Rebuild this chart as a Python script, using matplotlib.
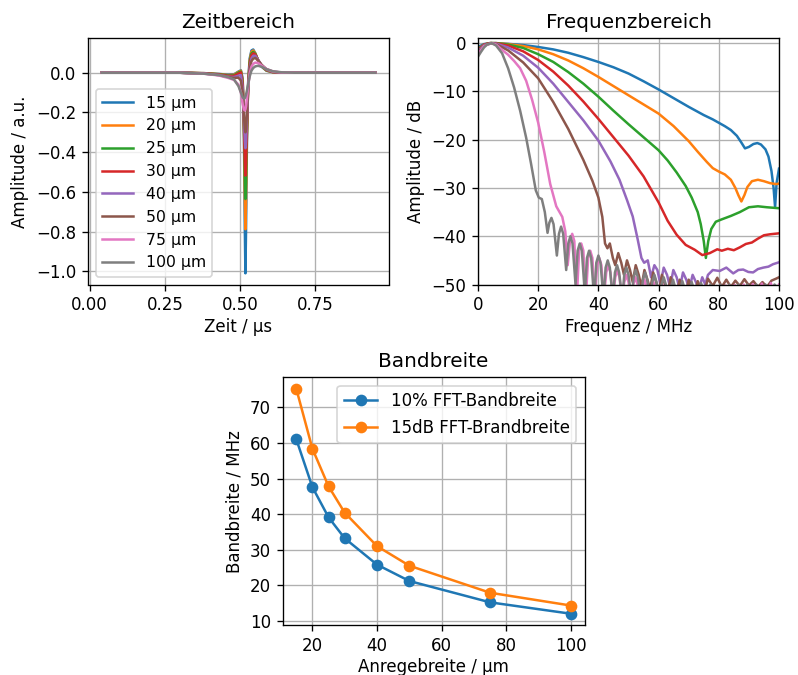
import matplotlib
matplotlib.use("Agg")
import matplotlib.pyplot as plt

# ---------------- data ----------------
labels = ["15 µm", "20 µm", "25 µm", "30 µm", "40 µm", "50 µm", "75 µm", "100 µm"]

# time domain (µs)
t_grid = [0.04, 0.30, 0.38, 0.43, 0.46, 0.48, 0.495, 0.503, 0.509, 0.513, 0.516, 0.518, 0.520,
          0.523, 0.527, 0.532, 0.538, 0.544, 0.551, 0.560, 0.572, 0.588, 0.610, 0.640, 0.680, 0.95]
amp_15 = [0, 0, -0.002, -0.006, -0.010, -0.008, 0.006, 0.012, -0.030, -0.30, -0.78, -1.01, -0.80,
          -0.35, -0.05, 0.07, 0.112, 0.117, 0.098, 0.062, 0.030, 0.010, 0.002, 0, 0, 0]
amp_20 = [0, 0, -0.002, -0.007, -0.012, -0.010, 0.004, 0.010, -0.040, -0.28, -0.64, -0.788, -0.66,
          -0.33, -0.06, 0.06, 0.105, 0.112, 0.097, 0.063, 0.032, 0.011, 0.002, 0, 0, 0]
amp_25 = [0, 0, -0.003, -0.008, -0.014, -0.013, 0.001, 0.006, -0.050, -0.27, -0.53, -0.636, -0.55,
          -0.30, -0.07, 0.05, 0.097, 0.105, 0.095, 0.064, 0.034, 0.012, 0.003, 0, 0, 0]
amp_30 = [0, 0, -0.003, -0.009, -0.016, -0.016, -0.004, 0.002, -0.060, -0.26, -0.45, -0.518, -0.46,
          -0.28, -0.08, 0.04, 0.088, 0.098, 0.092, 0.065, 0.036, 0.014, 0.003, 0, 0, 0]
amp_40 = [0, 0, -0.004, -0.011, -0.020, -0.022, -0.015, -0.012, -0.080, -0.23, -0.34, -0.38, -0.35,
          -0.23, -0.08, 0.025, 0.072, 0.085, 0.085, 0.065, 0.038, 0.016, 0.004, 0.001, 0, 0]
amp_50 = [0, 0, -0.004, -0.012, -0.022, -0.026, -0.025, -0.04, -0.10, -0.21, -0.28, -0.30, -0.285,
          -0.20, -0.08, 0.015, 0.058, 0.071, 0.074, 0.062, 0.040, 0.018, 0.005, 0.001, 0, 0]
amp_75 = [0, 0, -0.005, -0.014, -0.026, -0.036, -0.060, -0.10, -0.16, -0.185, -0.19, -0.185, -0.17,
          -0.13, -0.07, -0.005, 0.030, 0.045, 0.051, 0.049, 0.036, 0.019, 0.006, 0.001, 0, 0]
amp_100 = [0, 0, -0.005, -0.012, -0.022, -0.034, -0.068, -0.10, -0.125, -0.13, -0.128, -0.12, -0.11,
           -0.09, -0.06, -0.02, 0.010, 0.024, 0.032, 0.035, 0.030, 0.018, 0.007, 0.002, 0, 0]

# frequency domain (MHz, dB)
f_15 = [0, 2, 4, 6, 10, 15, 20, 25, 30, 35, 40, 45, 50, 55, 60, 65, 70, 75, 78, 80, 82, 84, 86,
        87.5, 88.7, 90, 91.5, 92.8, 94, 95.5, 96.5, 97.5, 98.2, 98.7, 99.2, 100]
db_15 = [-0.8, -0.2, 0, 0, -0.15, -0.4, -0.8, -1.3, -2.0, -2.9, -3.9, -5.0, -6.3, -7.9, -9.6, -11.4,
         -13.2, -14.9, -15.8, -16.5, -17.2, -18.0, -19.2, -20.6, -21.8, -21.5, -20.9, -20.7, -21.0,
         -22.0, -23.5, -26.5, -30, -34, -29, -26]
f_20 = [0, 2, 4, 6, 10, 15, 20, 25, 30, 35, 40, 45, 50, 55, 60, 65, 70, 73, 76, 78, 80, 82, 84,
        85.5, 86.5, 87.5, 88.5, 89.5, 91, 93, 95, 97, 99, 100]
db_20 = [-1.2, -0.3, 0, 0, -0.2, -0.6, -1.3, -2.3, -3.6, -5.2, -7.0, -8.9, -10.8, -12.7, -14.6, -17.2,
         -20.3, -22.5, -24.6, -25.9, -26.6, -27.2, -28.3, -30.0, -31.5, -32.8, -31.5, -29.8, -28.6,
         -28.3, -28.6, -29.0, -29.2, -29.1]
f_25 = [0, 2, 4, 6, 10, 15, 20, 25, 30, 35, 40, 45, 50, 55, 60, 63, 66, 69, 71, 73, 74, 75, 75.7,
        76.5, 77.5, 79, 81, 84, 87, 90, 93, 96, 100]
db_25 = [-1.3, -0.3, 0, 0, -0.3, -1.0, -2.3, -3.9, -6.0, -8.4, -11.1, -14.0, -16.8, -19.5, -22.2,
         -24.3, -26.8, -29.6, -32.0, -35.0, -37.5, -41, -44.5, -41, -38.5, -37.0, -36.5, -35.8, -35.0,
         -34.0, -33.8, -34.0, -34.2]
f_30 = [0, 2, 4, 6, 10, 15, 20, 25, 30, 35, 40, 45, 50, 55, 60, 63, 66, 69, 72, 74.5, 77, 79.5, 81,
        83, 85, 87, 89, 91, 93, 95, 97, 100]
db_30 = [-1.5, -0.3, 0, -0.05, -0.5, -1.7, -3.5, -5.9, -8.8, -12.1, -15.7, -19.5, -23.3, -27.6,
         -33.0, -36.8, -39.7, -41.8, -42.8, -43.9, -43.5, -42.7, -43.0, -42.6, -42.9, -42.3, -41.6,
         -41.3, -40.5, -39.8, -39.6, -39.4]
f_40 = [0, 2, 4.5, 6, 10, 15, 20, 25, 30, 35, 40, 44, 47, 49.5, 51.4, 53, 54.3, 55.2, 56.4, 57.5,
        58.6, 59.6, 60.6, 61.7, 62.8, 63.8, 64.9, 66, 67, 68.1, 69.2, 70.2, 71.3, 72.4, 73.4, 74.5,
        75.5, 76.4, 78, 80.3, 82.5, 84.8, 86.5, 88.1, 89.8, 91.4, 93, 94.8, 96.5, 98, 100]
db_40 = [-1.7, -0.4, 0, -0.1, -0.9, -2.6, -5.1, -8.4, -12.2, -16.0, -20.2, -24.5, -28.3, -32.5,
         -35.9, -40.5, -44.5, -45.5, -45, -48.5, -46, -47, -50, -46.5, -48, -50.5, -47, -48.5, -51,
         -47.5, -49, -51, -48, -49.5, -51, -48.5, -50, -48.0, -47.0, -47.2, -46.5, -47.7, -47.0,
         -46.9, -47.4, -47.5, -46.8, -46.5, -46.3, -45.8, -45.4]
f_50 = [0, 2, 4.5, 6, 10, 15, 20, 25, 30, 35, 38, 40, 41.3, 42.2, 43, 43.8, 44.8, 45.6, 46.6, 47.6,
        48.5, 49.5, 50.5, 51.4, 52.4, 53.4, 54.3, 55.3, 56.3, 57.2, 58.2, 59.2, 60.1, 61.1, 62.1, 63,
        64, 65, 66, 67, 68, 69, 70, 71, 72, 73, 74, 75, 76.4, 78, 79.5, 81, 82.5, 84, 85.5, 87,
        88.5, 90, 91.5, 93, 94.5, 96, 97.5, 99, 100]
db_50 = [-2.0, -0.5, 0, -0.2, -1.5, -4.0, -7.3, -12.2, -17.8, -24.2, -28.5, -32.0, -36, -41.5, -42.5,
         -41.5, -44.5, -46, -43.5, -45.5, -48, -45, -47, -49.5, -46, -48, -50.5, -47, -49, -51,
         -47.5, -49.5, -51.5, -48, -50, -52, -48.5, -50.5, -52, -49, -51, -52, -49, -51, -52, -49.3,
         -51, -52, -48.8, -50.3, -48.6, -50.5, -49, -50.5, -49.2, -50.3, -48.9, -50.2, -49.3, -50.5,
         -49.5, -50.5, -49.2, -48.8, -48.5]
f_75 = [0, 2, 4.5, 6, 8, 10, 12, 14, 16, 18, 20, 22, 24, 26, 28, 29, 29.8, 30.6, 31.3, 32.0, 32.8,
        33.6, 34.3, 35.0, 35.8, 36.6, 37.3, 38.0, 38.8, 39.6, 40.3, 41.0, 41.8, 42.6, 43.3, 44.0,
        44.8, 45.6, 46.3, 47.0, 47.8, 48.6, 49.3, 50.0, 50.8, 51.6, 52.3, 53.0, 53.8, 54.6, 55.3,
        56.0, 56.8, 58.3, 59.8, 61.3, 62.8, 64.3, 65.8, 67.3, 68.8, 70.3, 71.8, 73.3, 74.8, 76.3,
        77.8, 79.3, 80.8, 82.3, 83.8, 85.3, 86.8, 88.3, 89.8, 91.3, 92.8, 94.3, 95.8, 97.3, 98.8, 100]
db_75 = [-2.2, -0.6, 0, -0.3, -1.4, -2.4, -3.7, -5.2, -7.8, -11.8, -16.5, -22.5, -29.2, -33.8,
         -36.0, -39, -46, -40.8, -39.5, -41, -53, -43, -41.5, -43, -53, -44.5, -43, -44.5, -53, -46,
         -44.5, -46, -53, -47.5, -46, -47.5, -53, -48.5, -47, -48.5, -53, -49.5, -48, -49.5, -53,
         -50, -48.5, -50, -53, -50.5, -49, -50.5, -53, -49.5, -53, -50, -53, -50.3, -53, -50.4, -53,
         -50.5, -53, -50.5, -53, -50.4, -53, -50.3, -53, -50.2, -53, -50.1, -53, -50.0, -53, -49.9,
         -53, -49.8, -53, -49.7, -53, -50.0]
f_100 = [0, 1, 2, 3, 4.5, 6, 8, 10, 12, 14, 16, 17.6, 19.2, 20.2, 21.2, 22.2, 23.1, 23.7, 24.4,
         25.1, 26.2, 26.9, 27.6, 28.3, 29.3, 30.0, 30.7, 31.4, 32.4, 33.1, 33.8, 34.5, 35.5, 36.2,
         36.9, 37.6, 38.6, 39.3, 40.0, 40.7, 41.7, 42.4, 43.1, 43.8, 44.8, 45.5, 46.2, 46.9, 47.9,
         48.6, 49.3, 50.0, 51.0, 51.7, 52.4, 53.1, 54.1, 54.8, 55.5, 56.2, 57.2, 57.9, 58.6, 59.3,
         60.3, 61.0, 61.7, 62.4, 63.4, 64.8, 66.5, 67.9, 69.6, 71.0, 72.7, 74.1, 75.8, 77.2, 79,
         80.5, 82, 83.5, 85, 86.5, 88, 89.5, 91, 92.5, 94, 95.5, 97, 98.5, 100]
db_100 = [-2.8, -1.8, -0.9, -0.3, 0, -0.5, -2.1, -5.2, -9.2, -14.0, -19.6, -24.9, -30.5, -32.0,
          -32.3, -35.0, -39.3, -37.2, -36.2, -37.5, -44, -39.5, -38.0, -39.5, -47, -41.5, -40.0,
          -41.5, -50, -43, -41.5, -43, -52, -44.5, -43, -44.5, -53, -45.5, -44, -45.5, -53, -46.5,
          -45, -46.5, -53, -47.5, -46, -47.5, -53, -48, -46.5, -48, -53, -48.5, -47, -48.5, -53,
          -49, -47.5, -49, -53, -49.5, -48, -49.5, -53, -50, -48.5, -50, -53, -49, -53, -49.3, -53,
          -49.5, -53, -49.7, -53, -50, -53, -50, -53, -50, -53, -50, -53, -50, -53, -50, -53, -50,
          -53, -50, -51]

# bandwidth
widths = [15, 20, 25, 30, 40, 50, 75, 100]
bw_10pct = [61.1, 47.6, 39.1, 33.2, 25.8, 21.2, 15.2, 12.0]
bw_15db = [75.3, 58.4, 47.8, 40.4, 31.0, 25.5, 17.9, 14.3]

amps = [amp_15, amp_20, amp_25, amp_30, amp_40, amp_50, amp_75, amp_100]
freqs = [f_15, f_20, f_25, f_30, f_40, f_50, f_75, f_100]
dbs = [db_15, db_20, db_25, db_30, db_40, db_50, db_75, db_100]

# ---------------- figure ----------------
W, H = 798, 675
DPI = 120
fig = plt.figure(figsize=(W / DPI, H / DPI), dpi=DPI)

def px_axes(x0, y0, x1, y1):
    return fig.add_axes([x0 / W, 1 - y1 / H, (x1 - x0) / W, (y1 - y0) / H])

ax1 = px_axes(88, 38.3, 389, 284.5)
ax2 = px_axes(478, 38.3, 779, 284.5)
ax3 = px_axes(282.5, 377.3, 584.7, 625)

for a, lab in zip(amps, labels):
    ax1.plot(t_grid, a, label=lab)
ax1.set_xticks([0.0, 0.25, 0.5, 0.75])
ax1.set_title("Zeitbereich")
ax1.set_xlabel("Zeit / µs", labelpad=2)
ax1.set_ylabel("Amplitude / a.u.")
ax1.grid(True)
ax1.legend(loc="lower left", fontsize=9.4)

for f, d in zip(freqs, dbs):
    ax2.plot(f, d)
ax2.set_xlim(0, 100)
ax2.set_ylim(-50, 1)
ax2.set_title("Frequenzbereich")
ax2.set_xlabel("Frequenz / MHz", labelpad=2)
ax2.set_ylabel("Amplitude / dB")
ax2.grid(True)

ax3.plot(widths, bw_10pct, "o-", label="10% FFT-Bandbreite")
ax3.plot(widths, bw_15db, "o-", label="15dB FFT-Brandbreite")
ax3.set_title("Bandbreite")
ax3.set_xlabel("Anregebreite / µm", labelpad=2)
ax3.set_ylabel("Bandbreite / MHz")
ax3.grid(True)
ax3.legend(loc="upper right")

fig.savefig("out.png", dpi=DPI)
